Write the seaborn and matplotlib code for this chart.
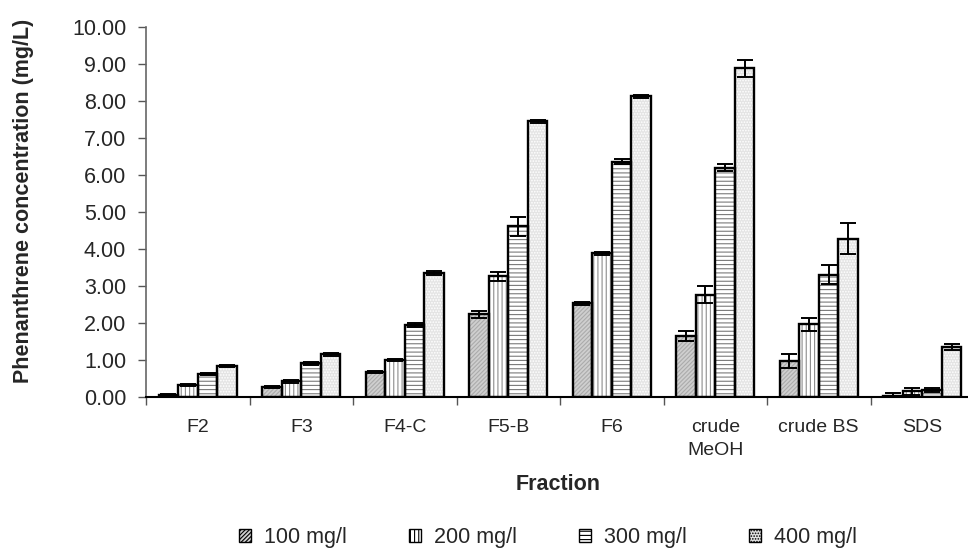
import matplotlib
matplotlib.use("Agg")
import matplotlib.pyplot as plt
from matplotlib.patches import Rectangle
from matplotlib.ticker import FormatStrFormatter, FixedLocator
import pandas as pd
import seaborn as sns

fractions = ["F2", "F3", "F4-C", "F5-B", "F6", "crude\nMeOH", "crude BS", "SDS"]
doses = ["100 mg/l", "200 mg/l", "300 mg/l", "400 mg/l"]

conc_100 = [0.06, 0.27, 0.68, 2.23, 2.53, 1.65, 0.97, 0.04]
conc_200 = [0.33, 0.42, 1.00, 3.26, 3.88, 2.77, 1.96, 0.15]
conc_300 = [0.62, 0.91, 1.95, 4.61, 6.36, 6.20, 3.31, 0.19]
conc_400 = [0.83, 1.15, 3.36, 7.45, 8.13, 8.89, 4.28, 1.36]

err_100 = [0.03, 0.03, 0.03, 0.10, 0.05, 0.13, 0.19, 0.07]
err_200 = [0.03, 0.03, 0.03, 0.13, 0.03, 0.24, 0.18, 0.10]
err_300 = [0.03, 0.04, 0.05, 0.26, 0.07, 0.10, 0.26, 0.06]
err_400 = [0.03, 0.05, 0.05, 0.05, 0.04, 0.23, 0.42, 0.08]

values = [conc_100, conc_200, conc_300, conc_400]
errors = [err_100, err_200, err_300, err_400]

rows = []
for d, vals in zip(doses, values):
    for f, v in zip(fractions, vals):
        rows.append({"Fraction": f, "Dose": d, "Conc": v})
df = pd.DataFrame(rows)

sns.set_style("white")
plt.rcParams["font.family"] = ["Liberation Sans", "DejaVu Sans"]
plt.rcParams["hatch.linewidth"] = 0.8

fills = ["#cfcfcf", "#ffffff", "#ffffff", "#e4e4e4"]
hatch_cols = ["#ababab", "#8c8c8c", "#7a7a7a", "#ffffff"]
hatches = ["////////", "||||", "----", "......"]

fig = plt.figure(figsize=(9.68, 5.51), dpi=100)
ax = fig.add_axes([146 / 968, 154 / 551, 828 / 968, 370 / 551])

sns.barplot(data=df, x="Fraction", y="Conc", hue="Dose", order=fractions,
            hue_order=doses, palette=fills, width=0.754, gap=0,
            errorbar=None, ax=ax, legend=False)

bar_groups = list(ax.containers)
for i, cont in enumerate(bar_groups):
    for p, e in zip(cont.patches, errors[i]):
        p.set_facecolor(fills[i])
        p.set_hatch(hatches[i])
        p.set_edgecolor(hatch_cols[i])
        p.set_linewidth(0)
        ax.add_patch(Rectangle(p.get_xy(), p.get_width(), p.get_height(),
                               fill=False, ec="black", lw=1.7, zorder=3))
        ax.errorbar(p.get_x() + p.get_width() / 2, p.get_height(), yerr=e,
                    color="black", lw=1.4, capsize=5.5, capthick=1.4, zorder=4)

ax.set_ylim(0, 10)
ax.set_xlim(-0.5, len(fractions) - 0.5)
ax.set_yticks([0, 1, 2, 3, 4, 5, 6, 7, 8, 9, 10])
ax.yaxis.set_major_formatter(FormatStrFormatter("%.2f"))
ax.tick_params(axis="y", which="major", direction="out", length=5.8, width=1,
               color="#555555", labelsize=15.5, left=True, pad=8.5)

# category labels at centres, ticks at the boundaries
ax.set_xticks(range(len(fractions)))
ax.set_xticklabels(fractions, fontsize=14, linespacing=1.45)
ax.tick_params(axis="x", which="major", length=0, pad=16)
ax.xaxis.set_minor_locator(FixedLocator([i - 0.5 for i in range(len(fractions) + 1)]))
ax.tick_params(axis="x", which="minor", direction="out", length=5.5, width=1,
               color="#555555", bottom=True)

for s in ["top", "right"]:
    ax.spines[s].set_visible(False)
ax.spines["left"].set_color("#666666")
ax.spines["left"].set_linewidth(1.2)
ax.spines["bottom"].set_color("black")
ax.spines["bottom"].set_linewidth(1.5)

ax.set_xlabel("Fraction", fontsize=15.5, fontweight="bold")
ax.set_ylabel("Phenanthrene concentration (mg/L)", fontsize=15.5,
              fontweight="bold")
ax.xaxis.set_label_coords((558 - 146) / 828, -(474 - 397) / 370)
ax.yaxis.set_label_coords((34 - 146) / 828, 0.53)

handles = [Rectangle((0, 0), 1, 1, facecolor=fills[i], hatch=hatches[i],
                     edgecolor="black", lw=1.0) for i in range(4)]
fig.legend(handles, doses, loc="center", bbox_to_anchor=(548 / 968, 1 - 538 / 551),
           ncol=4, frameon=False, fontsize=15.5, handlelength=0.55,
           handleheight=0.55, handletextpad=0.6, columnspacing=2.9)

fig.savefig("out.png", dpi=100)
